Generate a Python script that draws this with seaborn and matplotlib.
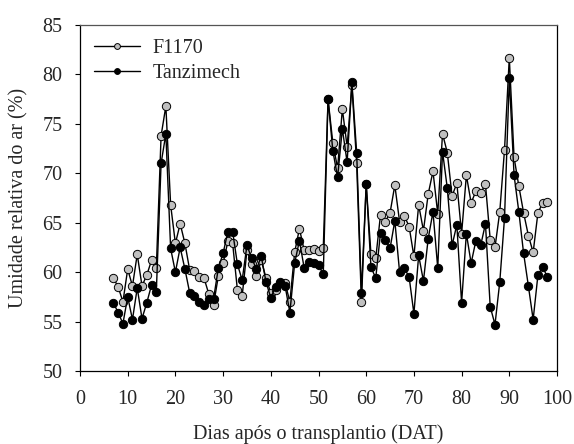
import matplotlib
matplotlib.use("Agg")
import matplotlib.pyplot as plt
import numpy as np
import pandas as pd
import seaborn as sns

dias = list(range(7, 99))
f1170 = [59.4, 58.5, 57.0, 60.3, 58.6, 61.8, 58.6, 59.7, 61.2, 60.4,
         73.8, 76.8, 66.8, 62.9, 64.9, 62.9, 60.2, 60.1, 59.5, 59.4,
         57.8, 56.7, 59.6, 60.9, 63.1, 62.9, 58.2, 57.6, 62.2, 60.8,
         59.6, 61.2, 59.4, 57.9, 58.2, 58.9, 58.9, 57.0, 62.0, 64.4,
         62.2, 62.2, 62.3, 62.1, 62.4, 77.5, 73.1, 70.5, 76.5, 72.7,
         78.9, 71.0, 57.0, 68.9, 61.8, 61.4, 65.8, 65.1, 66.0, 68.8,
         65.1, 65.7, 64.6, 61.6, 66.8, 64.2, 67.9, 70.2, 65.9, 74.0,
         72.1, 67.7, 69.0, 63.9, 69.8, 67.0, 68.2, 68.0, 68.9, 63.3,
         62.5, 66.1, 72.4, 81.7, 71.6, 68.7, 66.0, 63.7, 62.0, 66.0,
         67.0, 67.1]
tanzimech = [56.9, 55.9, 54.8, 57.5, 55.2, 58.4, 55.3, 56.9, 58.7, 58.0,
             71.0, 74.0, 62.4, 60.0, 62.5, 60.3, 57.9, 57.6, 57.0, 56.7,
             57.3, 57.3, 60.4, 61.9, 64.1, 64.1, 60.8, 59.2, 62.7, 61.4,
             60.3, 61.6, 59.0, 57.4, 58.5, 59.0, 58.6, 55.9, 60.9, 63.2,
             60.4, 61.0, 60.9, 60.7, 59.8, 77.5, 72.3, 69.6, 74.5, 71.1,
             79.2, 72.1, 57.9, 68.9, 60.5, 59.4, 64.0, 63.3, 62.4, 65.2,
             60.0, 60.4, 59.5, 55.8, 61.7, 59.1, 63.4, 66.1, 60.4, 72.2,
             68.5, 62.7, 64.8, 56.9, 63.9, 60.9, 63.2, 62.7, 64.9, 56.5,
             54.7, 59.0, 65.5, 79.6, 69.8, 66.1, 61.9, 58.6, 55.2, 59.7,
             60.5, 59.5]

df = pd.DataFrame({"dia": dias, "F1170": f1170, "Tanzimech": tanzimech})

sns.set_style("ticks")
plt.rcParams["font.family"] = ["Liberation Serif", "DejaVu Serif"]

fig = plt.figure(figsize=(5.74, 4.44), dpi=100)
ax = fig.add_axes([80 / 574, 1 - 371 / 444, 477 / 574, 346 / 444])

sns.lineplot(data=df, x="dia", y="F1170", ax=ax, color="black", lw=1,
             marker="o", markersize=6, markerfacecolor="#c0c0c0",
             markeredgecolor="black", markeredgewidth=0.7, label="F1170")
sns.lineplot(data=df, x="dia", y="Tanzimech", ax=ax, color="black", lw=1,
             marker="o", markersize=6, markerfacecolor="black",
             markeredgecolor="black", markeredgewidth=0.7, label="Tanzimech")

ax.set_xlim(0, 100)
ax.set_ylim(50, 85)
ax.set_xticks(range(0, 101, 10))
ax.set_yticks(range(50, 86, 5))
ax.tick_params(labelsize=14.5, length=3.5, width=0.8, color="black")
ax.tick_params(axis="x", pad=10)
ax.tick_params(axis="y", pad=9)
for s in ax.spines.values():
    s.set_visible(True)
    s.set_linewidth(0.9)
    s.set_color("black")
ax.spines["top"].set_color("#555555")

ax.set_xlabel("Dias após o transplantio (DAT)", fontsize=14.5, labelpad=11)
ax.set_ylabel("Umidade relativa do ar (%)", fontsize=14.5, labelpad=10)

ax.legend(loc="upper left", frameon=False, fontsize=14.5, handlelength=2.3,
          handletextpad=0.6, markerscale=0.7, borderaxespad=0.3,
          labelspacing=0.3, bbox_to_anchor=(0.0, 1.0))

fig.savefig("out.png", dpi=100)
